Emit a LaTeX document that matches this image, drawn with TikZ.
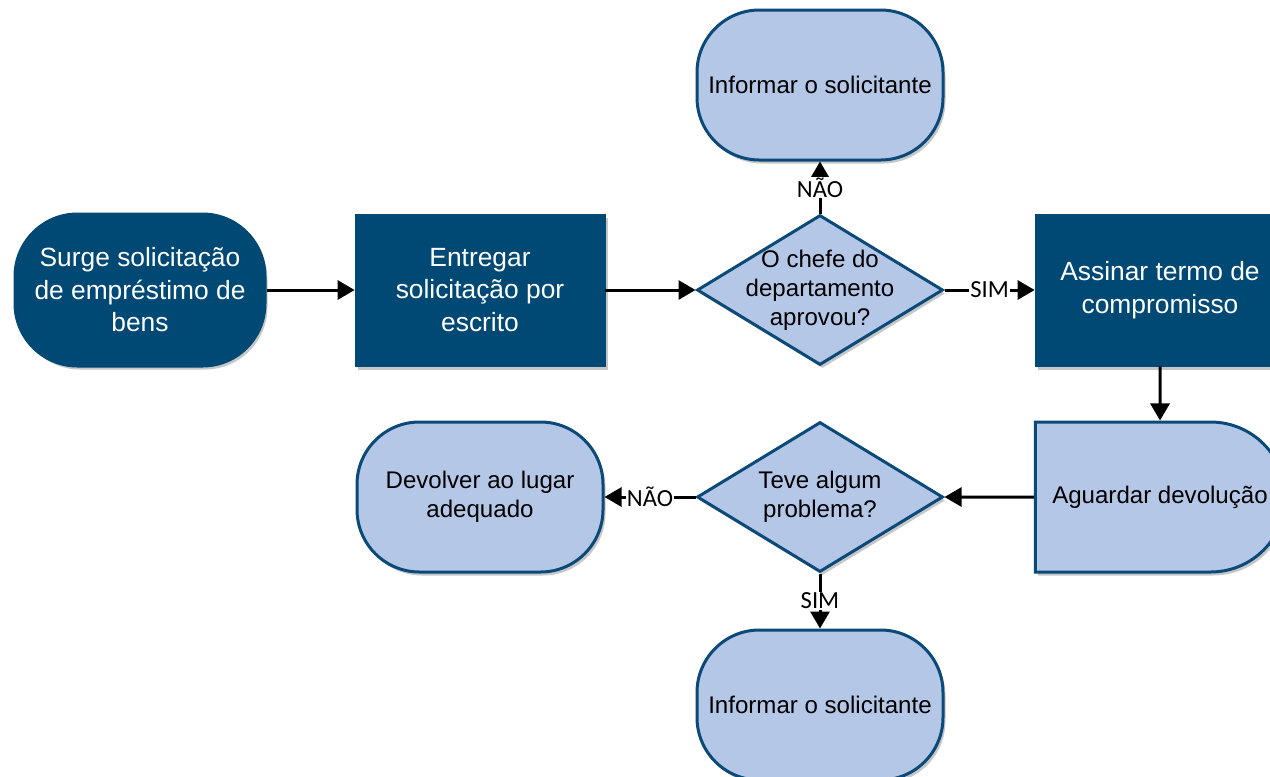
\documentclass[tikz,border=0pt]{standalone}
\usepackage{fontspec}
\setmainfont{Liberation Sans}
\newfontfamily\lblfont{Carlito}
\usepackage{xcolor}
\usepackage{tikz}
\usetikzlibrary{arrows.meta,shapes.geometric,shapes.misc,shadows}
\definecolor{flowdark}{HTML}{004975}
\definecolor{flowlight}{HTML}{B4C7E7}
\definecolor{flowedge}{HTML}{0B4A78}

\begin{document}
\begin{tikzpicture}[shd/.style={drop shadow={shadow xshift=0.05cm,shadow yshift=-0.07cm,fill=black,opacity=0.22}},
  term/.style={shd,draw=flowedge,line width=0.06cm,fill=flowlight,rounded corners=1.25cm,minimum width=4.92cm,minimum height=3cm,align=center,font=\fontsize{13.7}{16.8}\selectfont},
  termdark/.style={term,draw=flowdark,fill=flowdark,text=white,minimum width=5cm,minimum height=3.04cm,font=\fontsize{15}{18.5}\selectfont},
  proc/.style={shd,draw=flowdark,fill=flowdark,text=white,minimum width=5cm,minimum height=3.04cm,align=center,font=\fontsize{15}{18.5}\selectfont},
  decision/.style={shd,diamond,aspect=1.64,inner sep=-0.3cm,draw=flowedge,line width=0.06cm,fill=flowlight,minimum width=4.92cm,minimum height=3cm,align=center,font=\fontsize{13.7}{16.4}\selectfont},
  delay/.style={shd,rounded rectangle,rounded rectangle left arc=none,draw=flowedge,line width=0.06cm,fill=flowlight,minimum width=5.24cm,minimum height=3cm,font=\fontsize{13.7}{16.8}\selectfont},
  flow/.style={draw=black,line width=0.06cm,-{Triangle[length=0.34cm,width=0.38cm]}},
  lbl/.style={fill=white,inner sep=0.5pt,font=\lblfont\fontsize{14}{16}\selectfont}]
\useasboundingbox (0,0) rectangle (25.4,-15.52);
\clip (0,0) rectangle (25.4,-15.52);
\node[termdark] (surge) at (2.8,-5.8) {Surge solicitação\\de empréstimo de\\bens};
\node[proc] (entregar) at (9.6,-5.8) {Entregar\\solicitação por\\escrito};
\node[decision] (chefe) at (16.4,-5.8) {O chefe do\\departamento\\aprovou?};
\node[term] (inftop) at (16.4,-1.7) {Informar o solicitante};
\node[proc] (assinar) at (23.2,-5.8) {Assinar termo de\\compromisso};
\node[delay] (aguardar) at (23.2,-9.94) {Aguardar devolução};
\node[decision] (problema) at (16.4,-9.94) {Teve algum\\problema?};
\node[term] (devolver) at (9.6,-9.94) {Devolver ao lugar\\adequado};
\node[term] (infbot) at (16.4,-14.1) {Informar o solicitante};
\draw[flow] (surge) -- (entregar);
\draw[flow] (entregar) -- (chefe);
\draw[flow] (chefe) -- node[lbl]{NÃO} (inftop);
\draw[flow] (chefe) -- node[lbl]{SIM} (assinar);
\draw[flow] (assinar) -- (aguardar);
\draw[flow] (aguardar) -- (problema);
\draw[flow] (problema) -- node[lbl]{NÃO} (devolver);
\draw[flow] (problema) -- node[lbl]{SIM} (infbot);
\end{tikzpicture}
\end{document}
